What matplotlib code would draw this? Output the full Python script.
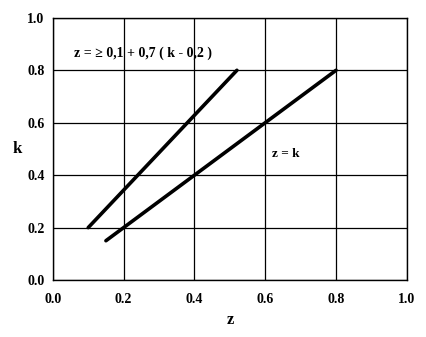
import matplotlib.pyplot as plt
import numpy as np

plt.rcParams['font.family'] = ['Liberation Serif', 'DejaVu Serif']
plt.rcParams['font.weight'] = 'bold'

# line 1: z = 0.1 + 0.7 (k - 0.2)
line1_z = [0.1, 0.52]
line1_k = [0.2, 0.8]
# line 2: z = k
line2_z = [0.15, 0.8]
line2_k = [0.15, 0.8]

ticks = [0.0, 0.2, 0.4, 0.6, 0.8, 1.0]
tick_labels = ["0.0", "0.2", "0.4", "0.6", "0.8", "1.0"]

fig = plt.figure(figsize=(4.26, 3.37), dpi=100)
ax = fig.add_axes([0.124, 0.169, 0.831, 0.778])

ax.plot(line1_z, line1_k, color='black', lw=2.6, solid_capstyle='round')
ax.plot(line2_z, line2_k, color='black', lw=2.6, solid_capstyle='round')

ax.set_xlim(0, 1)
ax.set_ylim(0, 1)
ax.set_xticks(ticks)
ax.set_yticks(ticks)
ax.set_xticklabels(tick_labels, fontsize=10, fontweight='bold')
ax.set_yticklabels(tick_labels, fontsize=10, fontweight='bold')
ax.tick_params(axis='x', length=0, pad=9)
ax.tick_params(axis='y', length=0, pad=6)
ax.grid(True, color='black', lw=0.9)
for s in ax.spines.values():
    s.set_linewidth(1.0)

ax.set_xlabel("z", fontsize=12, fontweight='bold', labelpad=5)
ax.set_ylabel("k", fontsize=12, fontweight='bold', rotation=0, va='center')
ax.yaxis.set_label_coords(-0.1, 0.5)

ax.text(0.06, 0.866, "z = ≥ 0,1 + 0,7 ( k - 0,2 )", fontsize=10, fontweight='bold', va='center')
ax.text(0.62, 0.48, "z = k", fontsize=9.5, fontweight='bold', va='center')

fig.savefig("out.png", dpi=100)
